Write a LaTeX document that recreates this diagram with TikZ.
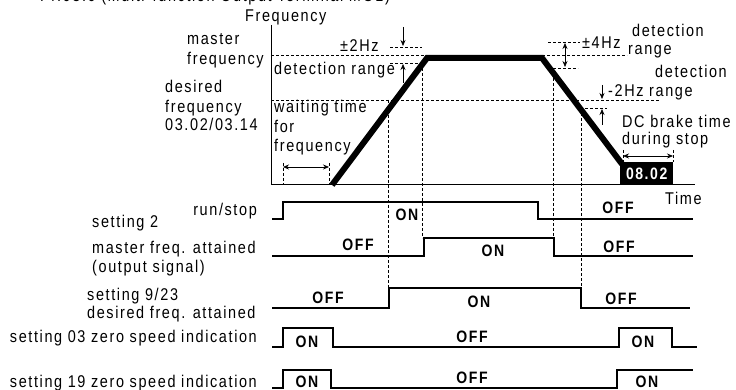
\documentclass[tikz,border=0pt]{standalone}
\usepackage{fontspec}
\setmainfont{Liberation Sans}[LetterSpace=9.5, FakeStretch=0.85]
\usetikzlibrary{arrows.meta}
\tikzset{
  txt/.style={inner sep=0pt, anchor=base west},
  txtr/.style={inner sep=0pt, anchor=base east},
  st/.style={inner sep=0pt, font=\fontsize{16.5}{18}\selectfont\bfseries},
  dsh/.style={line width=0.6pt, dash pattern=on 3pt off 2pt},
  sig/.style={line width=1.8pt, line join=miter},
  rampline/.style={line width=6pt, line join=miter},
  axis/.style={line width=1pt},
  arr/.style={line width=0.7pt, -{Stealth[length=6pt,width=5pt]}},
  darr/.style={line width=0.7pt, {Stealth[length=6pt,width=5pt]}-{Stealth[length=6pt,width=5pt]}},
}
\begin{document}
\begin{tikzpicture}[x=1pt,y=-1pt,font=\fontsize{17}{20}\selectfont]
\useasboundingbox (0,0) rectangle (736,390);
\clip (0,0) rectangle (736,390);
\fill[white] (0,0) rectangle (736,390);

% title (clipped at top)
\node[txt] (title) at (40,2) {Pr.03.0 (Multi-function Output Terminal MO1)};

% axes
\coordinate (o) at (271,185);
\coordinate (ytop) at (271,25);
\coordinate (xend) at (695,185);
\draw[axis] (ytop) -- (o) -- (xend);
\node[txt] (freq) at (245,22) {Frequency};
\node[txt] (time) at (665,205) {Time};

% left labels
\node[txt] (ml1) at (187,45) {master};
\node[txt] (ml2) at (187,65) {frequency};
\node[txt] (dl1) at (165,93) {desired};
\node[txt] (dl2) at (165,113) {frequency};
\node[txt] (dl3) at (165,131) {03.02/03.14};
\node[txt] (detl) at (274,75) {detection range};
\node[txt] (wt1) at (274,113) {waiting time};
\node[txt] (wt2) at (274,133) {for};
\node[txt] (wt3) at (274,152) {frequency};

% dashed reference lines
\coordinate (mfA) at (271,55); \coordinate (mfB) at (427,55);
\coordinate (mfC) at (542,55); \coordinate (mfD) at (627,55);
\draw[dsh] (mfA) -- (mfB);
\draw[dsh] (mfC) -- (mfD);
\coordinate (dfA) at (271,100); \coordinate (dfB) at (660,100);
\draw[dsh] (dfA) -- (dfB);
% +-2Hz
\coordinate (p2a) at (390,47); \coordinate (p2b) at (422,47);
\coordinate (p2c) at (390,63); \coordinate (p2d) at (422,63);
\draw[dsh] (p2a) -- (p2b);
\draw[dsh] (p2c) -- (p2d);
\coordinate (a1s) at (403,27); \coordinate (a1e) at (403,46);
\draw[arr] (a1s) -- (a1e);
\coordinate (a2s) at (403,83); \coordinate (a2e) at (403,64);
\draw[arr] (a2s) -- (a2e);
\node[txt] (pm2) at (340,52) {±2Hz};
% +-4Hz
\coordinate (p4a) at (548,42); \coordinate (p4b) at (580,42);
\coordinate (p4c) at (553,68); \coordinate (p4d) at (578,68);
\draw[dsh] (p4a) -- (p4b);
\draw[dsh] (p4c) -- (p4d);
\coordinate (a3s) at (565,43); \coordinate (a3e) at (565,67);
\draw[darr] (a3s) -- (a3e);
\node[txt] (pm4) at (582,49) {±4Hz};
\node[txt] (rg1) at (628,55) {range};
\node[txt] (det1) at (632,37) {detection};
% -2Hz
\coordinate (m2a) at (585,108); \coordinate (m2b) at (607,108);
\draw[dsh] (m2a) -- (m2b);
\coordinate (a4s) at (602,85); \coordinate (a4e) at (602,99);
\draw[arr] (a4s) -- (a4e);
\coordinate (a5s) at (602,125); \coordinate (a5e) at (602,109);
\draw[arr] (a5s) -- (a5e);
\node[txt] (m2) at (608,97) {-2Hz range};
\node[txt] (det2) at (655,78) {detection};

% waiting time arrow
\coordinate (w1t) at (283,163); \coordinate (w1b) at (283,185);
\coordinate (w2t) at (329,163); \coordinate (w2b) at (329,185);
\draw[dsh] (w1t) -- (w1b);
\draw[dsh] (w2t) -- (w2b);
\coordinate (wa) at (283,167); \coordinate (wb) at (329,167);
\draw[darr] (wa) -- (wb);

% DC brake
\node[txt] (dc1) at (622,128) {DC brake time};
\node[txt] (dc2) at (622,145) {during stop};
\coordinate (b1t) at (623,150); \coordinate (b1b) at (623,162);
\coordinate (b2t) at (673,150); \coordinate (b2b) at (673,162);
\draw[dsh] (b1t) -- (b1b);
\draw[dsh] (b2t) -- (b2b);
\coordinate (ba) at (623,156); \coordinate (bb) at (673,156);
\draw[darr] (ba) -- (bb);
\node[fill=black, minimum width=53pt, minimum height=23pt, inner sep=0pt, anchor=north west,
      text=white, font=\fontsize{16.5}{18}\selectfont\bfseries] (box) at (620,162) {08.02};

% frequency profile
\coordinate (r0) at (332,185);
\coordinate (r1) at (427,58);
\coordinate (r2) at (542,58);
\coordinate (r3) at (622,164);
\draw[rampline] (r0) -- (r1) -- (r2) -- (r3);

% vertical guides
\coordinate (g1t) at (388,100); \coordinate (g1b) at (388,288);
\coordinate (g2t) at (422,63);  \coordinate (g2b) at (422,238);
\coordinate (g3t) at (553,68);  \coordinate (g3b) at (553,256);
\coordinate (g4t) at (581,108); \coordinate (g4b) at (581,288);
\draw[dsh] (g1t) -- (g1b);
\draw[dsh] (g2t) -- (g2b);
\draw[dsh] (g3t) -- (g3b);
\draw[dsh] (g4t) -- (g4b);

% timing rows
\node[txtr] (l1) at (257,215) {run/stop};
\draw[sig] (272,219) -- (283,219) -- (283,202) -- (538,202) -- (538,219) -- (693,219);
\node[st] (s1a) at (407,215) {ON};
\node[st] (s1b) at (618,208) {OFF};

\node[txt] (l2a) at (92,227) {setting 2};
\node[txt] (l2b) at (92,253) {master freq. attained};
\node[txt] (l2c) at (92,272) {(output signal)};
\draw[sig] (272,256) -- (424,256) -- (424,238) -- (554,238) -- (554,256) -- (693,256);
\node[st] (s2a) at (358,245) {OFF};
\node[st] (s2b) at (493,251) {ON};
\node[st] (s2c) at (619,247) {OFF};

\node[txt] (l3a) at (87,300) {setting 9/23};
\node[txt] (l3b) at (87,318) {desired freq. attained};
\draw[sig] (272,308) -- (389,308) -- (389,288) -- (581,288) -- (581,308) -- (690,308);
\node[st] (s3a) at (328,298) {OFF};
\node[st] (s3b) at (479,302) {ON};
\node[st] (s3c) at (621,299) {OFF};

\node[txtr] (l4) at (257,342) {setting 03 zero speed indication};
\draw[sig] (272,347) -- (283,347) -- (283,328) -- (333,328) -- (333,347) -- (619,347) -- (619,328) -- (672,328) -- (672,347) -- (697,347);
\node[st] (s4a) at (307,342) {ON};
\node[st] (s4b) at (472,337) {OFF};
\node[st] (s4c) at (643,342) {ON};

\node[txtr] (l5) at (257,387) {setting 19 zero speed indication};
\draw[sig, line width=2.4pt] (272,388) -- (283,388) -- (283,370) -- (331,370) -- (331,388) -- (617,388) -- (617,370) -- (693,370);
\node[st] (s5a) at (307,382) {ON};
\node[st] (s5b) at (472,378) {OFF};
\node[st] (s5c) at (647,382) {ON};
\end{tikzpicture}
\end{document}
